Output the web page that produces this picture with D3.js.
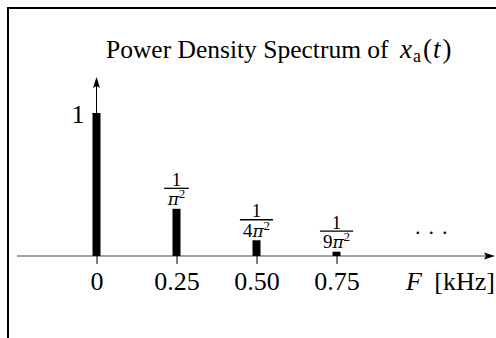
<!DOCTYPE html>
<html>
<head>
<meta charset="utf-8">
<script src="https://cdn.jsdelivr.net/npm/d3@7"></script>
<style>
  body { margin: 0; background: #fff; }
  svg { display: block; font-family: "Liberation Serif", "Times New Roman", serif; }
</style>
</head>
<body>
<svg id="chart"></svg>
<script>
// spectral lines (F in kHz) and their drawn heights, relative to the DC line
var freqs = [0, 0.25, 0.5, 0.75];
var tickLabels = ['0', '0.25', '0.50', '0.75'];
var heights = [1, 0.33, 0.11, 0.03];
// fraction labels above the lines: [numerator, denominator prefix]
var fracLabels = [null, ['1', ''], ['1', '4'], ['1', '9']];

var width = 496;
var height = 338;

var svg = d3.select('#chart')
    .attr('width', width)
    .attr('height', height);

// frame (cropped at right and bottom)
svg.append('path')
    .attr('d', 'M8,' + height + 'V8H' + width)
    .attr('fill', 'none')
    .attr('stroke', '#000')
    .attr('stroke-width', 2);

var x = d3.scaleLinear()
    .domain([0, 0.75])
    .range([96.5, 336.5]);

var y = d3.scaleLinear()
    .domain([0, 1])
    .range([256, 113]);

var y0 = y(0);

// horizontal axis line + arrow
svg.append('line')
    .attr('x1', 17).attr('x2', 486)
    .attr('y1', y0).attr('y2', y0)
    .attr('stroke', '#444')
    .attr('stroke-width', 1.2);
svg.append('path')
    .attr('d', 'M495,' + y0 + 'L484,' + (y0 - 3.5) + 'L486,' + y0 + 'L484,' + (y0 + 3.5) + 'Z')
    .attr('fill', '#000');

// vertical axis + arrow
svg.append('line')
    .attr('x1', x(0)).attr('x2', x(0))
    .attr('y1', y0).attr('y2', 86)
    .attr('stroke', '#000')
    .attr('stroke-width', 1);
svg.append('path')
    .attr('d', 'M' + x(0) + ',77L' + (x(0) - 3.5) + ',88L' + x(0) + ',86L' + (x(0) + 3.5) + ',88Z')
    .attr('fill', '#000');

// x ticks via d3 axis
var xAxis = d3.axisBottom(x)
    .tickValues(freqs)
    .tickFormat(function(d, i) { return tickLabels[i]; })
    .tickSize(8)
    .tickPadding(8);

var xg = svg.append('g')
    .attr('transform', 'translate(0,' + y0 + ')')
    .call(xAxis);
xg.select('.domain').remove();
xg.selectAll('.tick line').attr('stroke', '#000');
xg.selectAll('.tick text')
    .attr('font-family', '"Liberation Serif", serif')
    .attr('font-size', 26)
    .attr('fill', '#000');

// y tick "1"
var yAxis = d3.axisLeft(y)
    .tickValues([1])
    .tickFormat(d3.format('d'))
    .tickSize(4)
    .tickPadding(8);

var yg = svg.append('g')
    .attr('transform', 'translate(' + x(0) + ',0)')
    .call(yAxis);
yg.select('.domain').remove();
yg.selectAll('.tick line').attr('stroke', '#000');
yg.selectAll('.tick text')
    .attr('font-family', '"Liberation Serif", serif')
    .attr('font-size', 26)
    .attr('fill', '#000')
    .attr('dy', '0.36em');

// spectral lines
var barW = 8;
svg.selectAll('rect.bar')
    .data(freqs)
    .enter().append('rect')
    .attr('class', 'bar')
    .attr('x', function(d) { return x(d) - barW / 2; })
    .attr('y', function(d, i) { return y(heights[i]); })
    .attr('width', barW)
    .attr('height', function(d, i) { return y0 - y(heights[i]); })
    .attr('fill', '#000');

// fraction labels
freqs.forEach(function(f, i) {
    var lab = fracLabels[i];
    if (!lab) return;
    var cx = x(f);
    var lineY = y(heights[i]) - 20.5;
    var g = svg.append('g').attr('font-size', 19);
    g.append('text')
        .attr('x', cx)
        .attr('y', lineY - 2.5)
        .attr('text-anchor', 'middle')
        .text(lab[0]);
    var den = g.append('text')
        .attr('x', cx)
        .attr('y', lineY + 17)
        .attr('text-anchor', 'middle');
    den.append('tspan').attr('font-size', 19).text(lab[1]);
    den.append('tspan')
        .attr('font-family', '"DejaVu Serif", serif')
        .attr('font-size', 17)
        .attr('font-style', 'italic')
        .text('π');
    den.append('tspan').attr('font-size', 13).attr('dy', -7).text('2');
    var w = den.node().getBBox().width + 6;
    g.append('line')
        .attr('x1', cx - w / 2).attr('x2', cx + w / 2)
        .attr('y1', lineY).attr('y2', lineY)
        .attr('stroke', '#000')
        .attr('stroke-width', 1.3);
});

// dots
svg.append('text')
    .attr('x', 415)
    .attr('y', 234)
    .attr('font-size', 22)
    .attr('letter-spacing', 8)
    .text('...');

// axis label
svg.append('text')
    .attr('x', 406)
    .attr('y', 290)
    .attr('font-size', 26)
    .attr('font-style', 'italic')
    .text('F');
svg.append('text')
    .attr('x', 495)
    .attr('y', 290)
    .attr('font-size', 26)
    .attr('text-anchor', 'end')
    .text('[kHz]');

// title
var t = svg.append('text')
    .attr('x', 106)
    .attr('y', 58)
    .attr('font-size', 25.5);
t.append('tspan').text('Power Density Spectrum of ');
t.append('tspan').attr('font-style', 'italic').attr('font-size', 27).attr('dx', 5).text('x');
t.append('tspan').attr('font-size', 18).attr('dy', 4).attr('dx', 1).text('a');
t.append('tspan').attr('font-size', 27).attr('dy', -4).attr('dx', 2).text('(');
t.append('tspan').attr('font-size', 27).attr('font-style', 'italic').attr('dx', 1).text('t');
t.append('tspan').attr('font-size', 27).attr('dx', 2).text(')');
</script>
</body>
</html>
